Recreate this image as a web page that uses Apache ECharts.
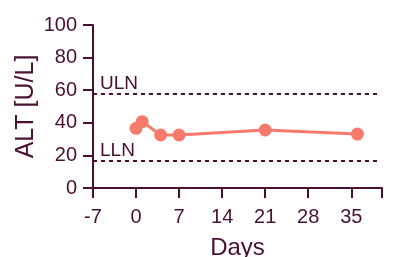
<!DOCTYPE html>
<html>
<head>
<meta charset="utf-8">
<script src="https://cdn.jsdelivr.net/npm/echarts@6/dist/echarts.min.js"></script>
<style>
  html, body { margin: 0; padding: 0; background: #fff; }
  #chart { width: 393px; height: 257px; }
</style>
</head>
<body>
<div id="chart"></div>
<script>
// days after start, ALT values
var days = [0, 1, 4, 7, 21, 36]
var alt = [36.6, 40.7, 32.5, 32.5, 35.6, 33.1]
var uln = 58
var lln = 17
var refStart = -7
var refEnd = 39.3
var xTicks = [-7, 0, 7, 14, 21, 28, 35]

var ink = '#4a1030'
var red = '#f87a6b'
var font = 'Liberation Sans, Arial, sans-serif'

var chart = echarts.init(document.getElementById('chart'))
var refLabel = {
  show: true,
  position: 'insideStartTop',
  color: ink, fontSize: 19, fontFamily: font,
  distance: [7, 0],
  formatter: '{b}'
}
var option = {
  animation: false,
  grid: { left: 93, top: 25, right: 11, bottom: 69, outerBoundsMode: 'none', containLabel: false },
  xAxis: {
    type: 'value',
    min: -7,
    max: 40,
    interval: 7,
    name: 'Days',
    nameLocation: 'middle',
    nameGap: 48,
    nameMoveOverlap: false,
    nameTextStyle: { color: ink, fontSize: 24, fontFamily: font },
    axisLine: { onZero: false, lineStyle: { color: ink, width: 2 } },
    axisTick: { length: 10, lineStyle: { color: ink, width: 2 } },
    axisLabel: {
      color: ink, fontSize: 20, fontFamily: font, margin: 19,
      formatter: function (v) { return xTicks.indexOf(v) >= 0 ? v : '' }
    },
    splitLine: { show: false }
  },
  yAxis: {
    type: 'value',
    min: 0,
    max: 100,
    interval: 20,
    name: 'ALT [U/L]',
    nameLocation: 'middle',
    nameGap: 54,
    nameMoveOverlap: false,
    nameTextStyle: { color: ink, fontSize: 25, fontFamily: font },
    axisLine: { show: true, onZero: false, lineStyle: { color: ink, width: 2 } },
    axisTick: { show: true, length: 10, lineStyle: { color: ink, width: 2 } },
    axisLabel: { color: ink, fontSize: 20, fontFamily: font, margin: 16 },
    splitLine: { show: false }
  },
  series: [{
    type: 'line',
    data: days.map(function (d, i) { return [d, alt[i]] }),
    symbol: 'circle',
    symbolSize: 13,
    lineStyle: { color: red, width: 3 },
    itemStyle: { color: red },
    z: 3,
    markLine: {
      silent: true,
      symbol: 'none',
      lineStyle: { color: ink, type: [4, 4], width: 1.8 },
      label: refLabel,
      data: [
        [{ name: 'ULN', coord: [refStart, uln] }, { coord: [refEnd, uln] }],
        [{ name: 'LLN', coord: [refStart, lln] }, { coord: [refEnd, lln] }]
      ]
    }
  }]
}
chart.setOption(option)
</script>
</body>
</html>
